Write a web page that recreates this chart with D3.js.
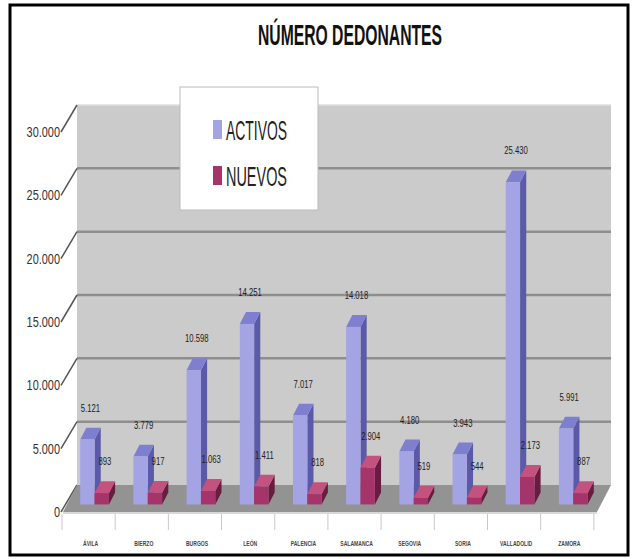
<!DOCTYPE html>
<html>
<head>
<meta charset="utf-8">
<script src="https://cdn.jsdelivr.net/npm/d3@7"></script>
<style>
  body { margin: 0; background: #fff; }
  svg text { font-family: "Liberation Sans Narrow", "Arial Narrow", "Liberation Sans", Arial, sans-serif; }
</style>
</head>
<body>
<svg id="chart" width="639" height="559"></svg>
<script>
// datos del grafico
const provincias = ["ÁVILA", "BIERZO", "BURGOS", "LEÓN", "PALENCIA", "SALAMANCA", "SEGOVIA", "SORIA", "VALLADOLID", "ZAMORA"];
const activos = [5121, 3779, 10598, 14251, 7017, 14018, 4180, 3943, 25430, 5991];
const nuevos = [893, 917, 1063, 1411, 818, 2904, 519, 544, 2173, 887];
const series = ["ACTIVOS", "NUEVOS"];
const yTicks = [0, 5000, 10000, 15000, 20000, 25000, 30000];

// colores: frente, lado, arriba
const colores = {
  ACTIVOS: { front: "#a4a4e4", side: "#5a5aa8", top: "#7f7fcf" },
  NUEVOS: { front: "#a5346a", side: "#671c40", top: "#c4527f" }
};

const svg = d3.select("#chart");

// profundidad de la perspectiva (oblicua)
const DX = 14, DY = -27;

const x = d3.scaleBand()
    .domain(provincias)
    .range([63, 597])
    .paddingInner(0.46)
    .paddingOuter(0.25);

const xs = d3.scaleBand()
    .domain(series)
    .range([0, x.bandwidth()]);

const y = d3.scaleLinear()
    .domain([0, 30000])
    .range([512, 132]);

const fmt = d3.formatLocale({ decimal: ",", thousands: ".", grouping: [3], currency: ["", "€"] }).format(",d");

function proj(px, v, z) {
  return [px + z * DX, y(v) + z * DY];
}
function poly(pts) {
  return pts.map(p => p.join(",")).join(" ");
}
// texto estrecho (no hay fuente narrow instalada)
function narrow(sel, k) {
  sel.each(function() {
    const w = this.getComputedTextLength();
    d3.select(this).attr("textLength", w * k).attr("lengthAdjust", "spacingAndGlyphs");
  });
}

// marco exterior
svg.append("rect")
    .attr("x", 10).attr("y", 5)
    .attr("width", 618).attr("height", 550)
    .attr("fill", "#fff")
    .attr("stroke", "#000")
    .attr("stroke-width", 3);

// titulo
svg.append("text")
    .attr("x", 350).attr("y", 45)
    .attr("text-anchor", "middle")
    .attr("font-size", 30)
    .attr("font-weight", "bold")
    .attr("textLength", 184)
    .attr("lengthAdjust", "spacingAndGlyphs")
    .attr("fill", "#111")
    .text("NÚMERO DEDONANTES");

const x0 = x.range()[0], x1 = x.range()[1];

// pared del fondo
svg.append("polygon")
    .attr("points", poly([proj(x0, 0, 1), proj(x1, 0, 1), proj(x1, 30000, 1), proj(x0, 30000, 1)]))
    .attr("fill", "#cbcbcb");

// lineas de la cuadricula (fondo y pared lateral)
const grid = svg.append("g");
yTicks.filter(t => t > 0).forEach(t => {
  grid.append("line")
      .attr("x1", proj(x0, t, 1)[0]).attr("y1", proj(x0, t, 1)[1])
      .attr("x2", proj(x1, t, 1)[0]).attr("y2", proj(x1, t, 1)[1])
      .attr("stroke", t === 30000 ? "#dedede" : "#8e8e8e")
      .attr("stroke-width", t === 30000 ? 1.5 : 2.5);
});
yTicks.forEach(t => {
  grid.append("line")
      .attr("x1", proj(x0 - 2, t, 0)[0]).attr("y1", proj(x0 - 2, t, 0)[1])
      .attr("x2", proj(x0, t, 1)[0]).attr("y2", proj(x0, t, 1)[1])
      .attr("stroke", "#555")
      .attr("stroke-width", 1.5);
});

// suelo
svg.append("polygon")
    .attr("points", poly([proj(x0, 0, 0), proj(x1, 0, 0), proj(x1, 0, 1), proj(x0, 0, 1)]))
    .attr("fill", "#939393");
svg.append("line")
    .attr("x1", x0).attr("y1", y(0) + 1)
    .attr("x2", x1).attr("y2", y(0) + 1)
    .attr("stroke", "#d8d8d8")
    .attr("stroke-width", 2);

// etiquetas eje y
svg.append("g").selectAll("text")
    .data(yTicks)
    .join("text")
    .attr("x", 60)
    .attr("y", d => y(d) + 5)
    .attr("text-anchor", "end")
    .attr("font-size", 14)
    .attr("fill", "#333")
    .text(d => d === 0 ? "0" : fmt(d))
    .call(narrow, 0.78);

// marcas del eje x
svg.append("g").selectAll("line")
    .data(d3.range(provincias.length + 1))
    .join("line")
    .attr("x1", i => x0 + i * x.step() - 1)
    .attr("x2", i => x0 + i * x.step() - 1)
    .attr("y1", y(0) + 2)
    .attr("y2", y(0) + 18)
    .attr("stroke", "#c8c8c8")
    .attr("stroke-width", 1);

svg.append("g").selectAll("text")
    .data(provincias)
    .join("text")
    .attr("x", d => x(d) + x.bandwidth() / 2)
    .attr("y", 546)
    .attr("text-anchor", "middle")
    .attr("font-size", 7)
    .attr("font-weight", "bold")
    .attr("fill", "#444")
    .text(d => d)
    .call(narrow, 0.72);

// barras 3D
const z0 = 0.28, z1 = 0.72;
const bars = [];
provincias.forEach((p, i) => {
  bars.push({ prov: p, serie: "ACTIVOS", value: activos[i] });
  bars.push({ prov: p, serie: "NUEVOS", value: nuevos[i] });
});

const gBars = svg.append("g");
bars.forEach(d => {
  const bx = x(d.prov) + xs(d.serie);
  const bw = xs.bandwidth();
  const c = colores[d.serie];
  const g = gBars.append("g");
  // lado derecho
  g.append("polygon")
      .attr("points", poly([proj(bx + bw, 0, z0), proj(bx + bw, 0, z1), proj(bx + bw, d.value, z1), proj(bx + bw, d.value, z0)]))
      .attr("fill", c.side);
  // arriba
  g.append("polygon")
      .attr("points", poly([proj(bx, d.value, z0), proj(bx + bw, d.value, z0), proj(bx + bw, d.value, z1), proj(bx, d.value, z1)]))
      .attr("fill", c.top);
  // frente
  const f0 = proj(bx, d.value, z0), f1 = proj(bx + bw, 0, z0);
  g.append("rect")
      .attr("x", f0[0]).attr("y", f0[1])
      .attr("width", f1[0] - f0[0]).attr("height", f1[1] - f0[1])
      .attr("fill", c.front);
  // etiqueta del valor
  const top = proj(bx + bw / 2, d.value, (z0 + z1) / 2);
  g.append("text")
      .attr("x", top[0])
      .attr("y", proj(bx, d.value, z1)[1] - 16)
      .attr("text-anchor", "middle")
      .attr("font-size", 11)
      .attr("fill", "#222")
      .text(fmt(d.value))
      .call(narrow, 0.7);
});

// leyenda
const leg = svg.append("g");
leg.append("rect")
    .attr("x", 180).attr("y", 87)
    .attr("width", 138).attr("height", 123)
    .attr("fill", "#fff")
    .attr("stroke", "#bbb")
    .attr("stroke-width", 1);
series.forEach((s, i) => {
  const yy = 120 + i * 46;
  leg.append("rect")
      .attr("x", 213).attr("y", yy)
      .attr("width", 9).attr("height", 19)
      .attr("fill", colores[s].front);
  leg.append("text")
      .attr("x", 226).attr("y", yy + 20)
      .attr("font-size", 28)
      .attr("textLength", 61)
      .attr("lengthAdjust", "spacingAndGlyphs")
      .attr("fill", "#222")
      .text(s);
});
</script>
</body>
</html>
